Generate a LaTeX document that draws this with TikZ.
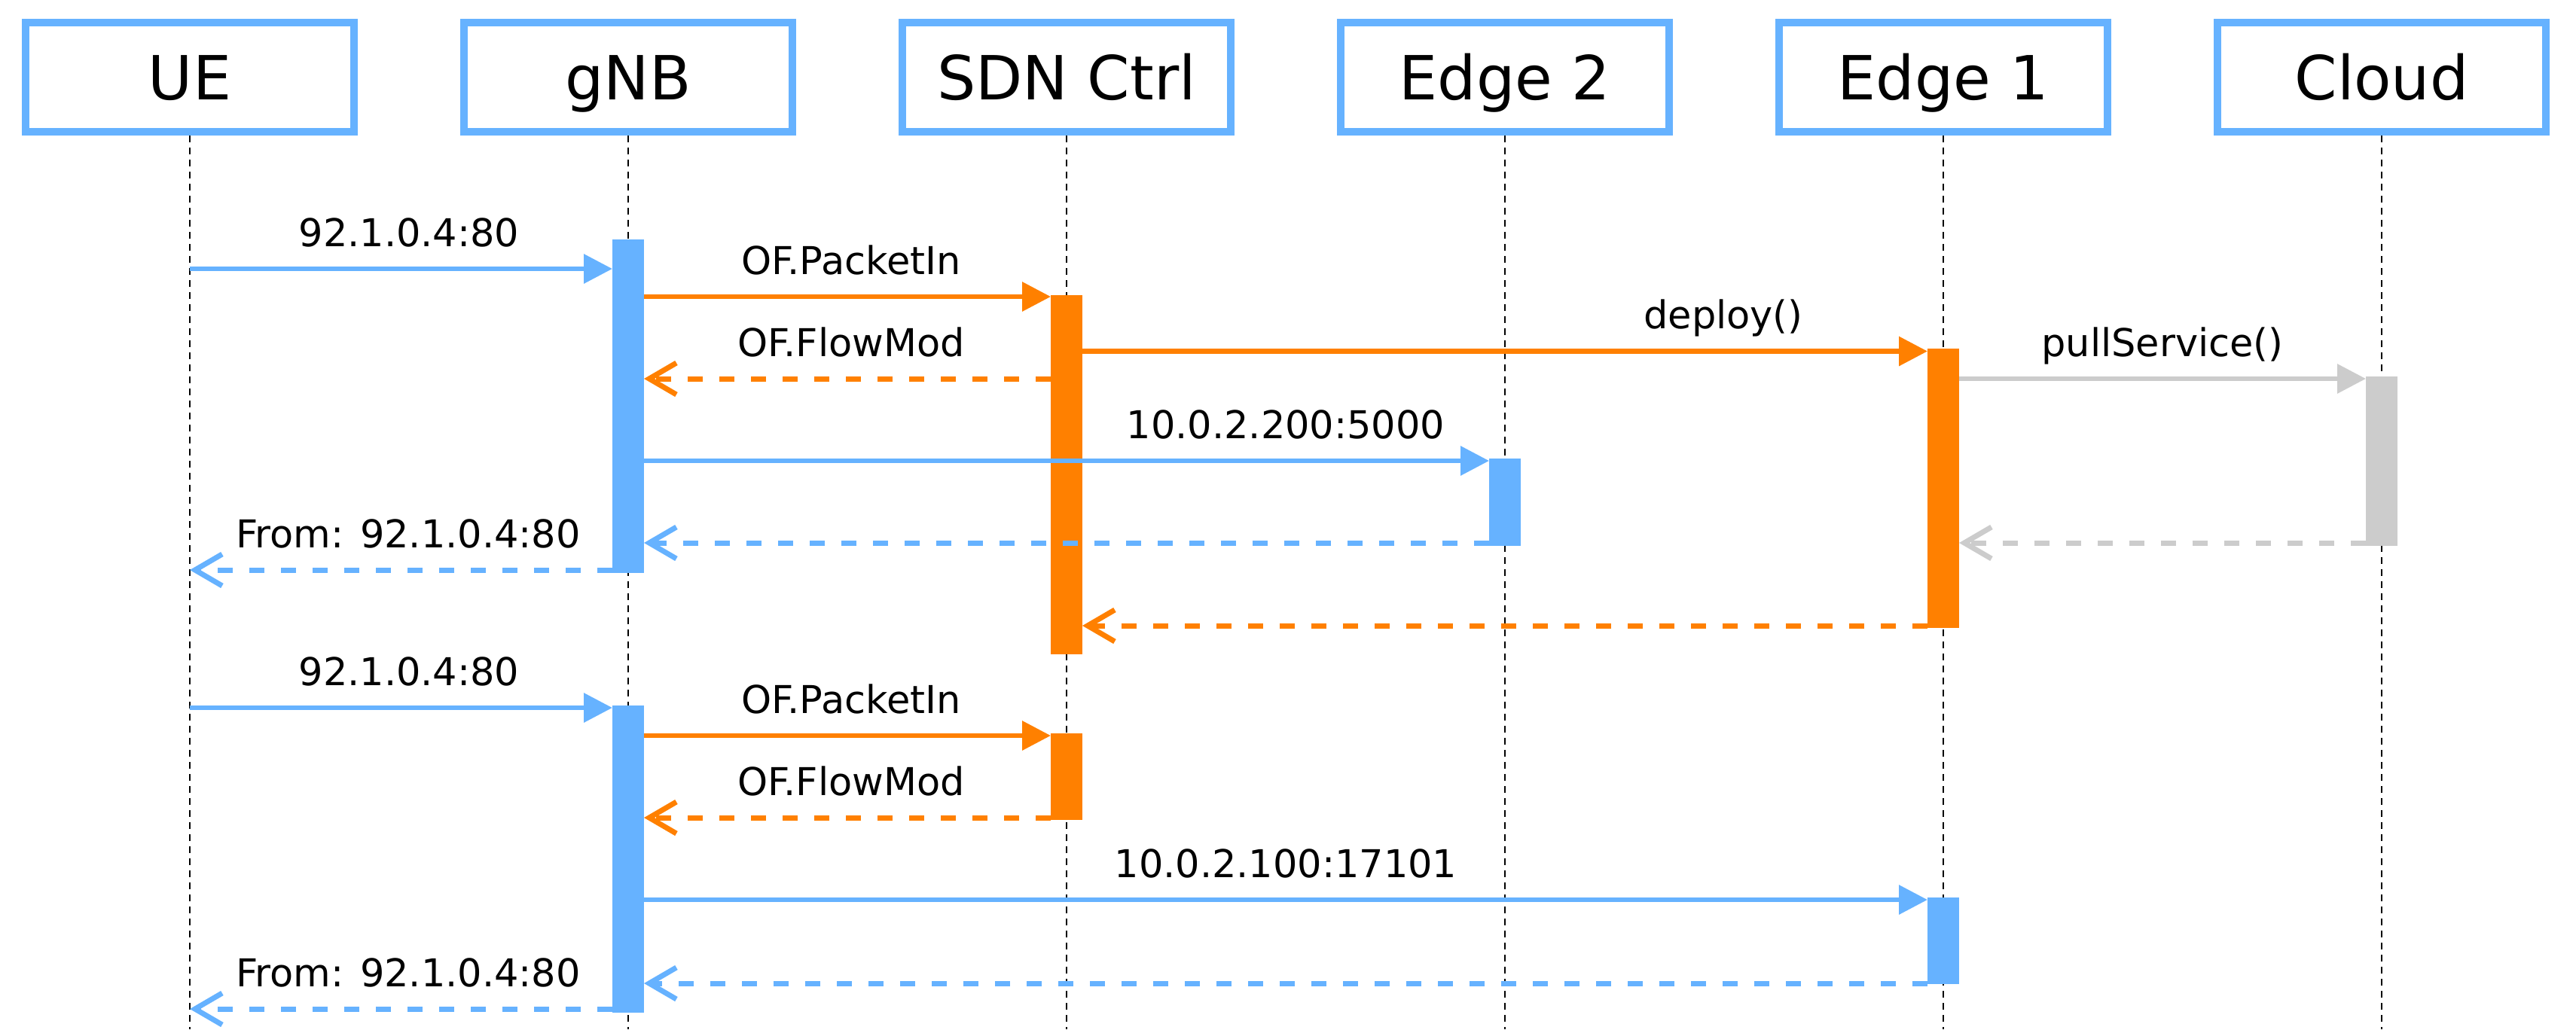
\documentclass[tikz,border=0pt]{standalone}
\usepackage{fontspec}
\setmainfont{DejaVu Sans}
\usetikzlibrary{arrows.meta}

\definecolor{lblue}{HTML}{66B2FF}
\definecolor{orng}{HTML}{FF8000}
\definecolor{lgray}{HTML}{CCCCCC}

\tikzset{
    actor/.style={draw=lblue, line width=0.1cm, minimum width=4.36cm, minimum height=1.45cm,
        font=\fontsize{23}{26}\selectfont, text height=16.8pt, text depth=0pt},
    lifeline/.style={line width=0.02cm, dash pattern=on 0.09cm off 0.07cm},
    actbar/.style={fill=#1, minimum width=0.42cm, inner sep=0pt, outer sep=0pt, anchor=north},
    msg/.style={draw=#1, line width=0.065cm, -{Triangle[length=0.38cm, width=0.38cm]}},
    reply/.style={draw=#1, line width=0.07cm, dash pattern=on 0.2cm off 0.22cm,
        -{Straight Barb[length=0.36cm, width=0.42cm]}},
    lbl/.style={font=\fontsize{14.5}{17}\selectfont, anchor=base, inner sep=0pt}
}

\begin{document}
\begin{tikzpicture}
    \useasboundingbox (0,0) rectangle (34.2,-13.67);

    % Draw the participants
    \node[actor] (ue) at (2.52,-1.025) {UE};
    \node[actor] (gnb) at (8.34,-1.025) {gNB};
    \node[actor] (sdn) at (14.16,-1.025) {SDN Ctrl};
    \node[actor] (edgetwo) at (19.98,-1.025) {Edge 2};
    \node[actor] (edgeone) at (25.80,-1.025) {Edge 1};
    \node[actor] (cloud) at (31.62,-1.025) {Cloud};

    % Draw the lifelines
    \coordinate (bottom) at (0,-13.67);
    \foreach \p in {ue,gnb,sdn,edgetwo,edgeone,cloud}
        \draw[lifeline] (\p.south) -- (\p |- bottom);

    % Activation bars
    \node[actbar=lblue, minimum height=4.43cm] (gnbA) at (8.34,-3.18) {};
    \node[actbar=orng, minimum height=4.77cm] (sdnA) at (14.16,-3.92) {};
    \node[actbar=orng, minimum height=3.71cm] (edgeoneA) at (25.80,-4.63) {};
    \node[actbar=lgray, minimum height=2.25cm] (cloudA) at (31.62,-5.00) {};
    \node[actbar=lblue, minimum height=1.16cm] (edgetwoA) at (19.98,-6.09) {};
    \node[actbar=lblue, minimum height=4.08cm] (gnbB) at (8.34,-9.37) {};
    \node[actbar=orng, minimum height=1.15cm] (sdnB) at (14.16,-9.74) {};
    \node[actbar=lblue, minimum height=1.15cm] (edgeoneB) at (25.80,-11.92) {};

    % Message rows
    \coordinate (m1) at (0,-3.57);
    \coordinate (m2) at (0,-3.94);
    \coordinate (m3) at (0,-4.665);
    \coordinate (m4) at (0,-5.03);
    \coordinate (m5) at (0,-6.12);
    \coordinate (m6) at (0,-7.21);
    \coordinate (m7) at (0,-7.57);
    \coordinate (m8) at (0,-8.31);
    \coordinate (m9) at (0,-9.40);
    \coordinate (m10) at (0,-9.77);
    \coordinate (m11) at (0,-10.86);
    \coordinate (m12) at (0,-11.95);
    \coordinate (m13) at (0,-13.06);
    \coordinate (m14) at (0,-13.40);

    % First request
    \draw[msg=lblue] (ue |- m1) -- (gnbA.west |- m1);
    \draw[msg=orng] (gnbA.east |- m2) -- (sdnA.west |- m2);
    \draw[msg=orng] (sdnA.east |- m3) -- (edgeoneA.west |- m3);
    \draw[reply=orng] (sdnA.west |- m4) -- (gnbA.east |- m4);
    \draw[msg=lgray] (edgeoneA.east |- m4) -- (cloudA.west |- m4);
    \draw[msg=lblue] (gnbA.east |- m5) -- (edgetwoA.west |- m5);
    \draw[reply=lblue] (edgetwoA.west |- m6) -- (gnbA.east |- m6);
    \draw[reply=lgray] (cloudA.west |- m6) -- (edgeoneA.east |- m6);
    \draw[reply=lblue] (gnbA.west |- m7) -- (ue |- m7);
    \draw[reply=orng] (edgeoneA.west |- m8) -- (sdnA.east |- m8);

    % Second request
    \draw[msg=lblue] (ue |- m9) -- (gnbB.west |- m9);
    \draw[msg=orng] (gnbB.east |- m10) -- (sdnB.west |- m10);
    \draw[reply=orng] (sdnB.west |- m11) -- (gnbB.east |- m11);
    \draw[msg=lblue] (gnbB.east |- m12) -- (edgeoneB.west |- m12);
    \draw[reply=lblue] (edgeoneB.west |- m13) -- (gnbB.east |- m13);
    \draw[reply=lblue] (gnbB.west |- m14) -- (ue |- m14);

    % Labels
    \node[lbl] (l1) at (5.43,-3.27) {92.1.0.4:80};
    \node[lbl] (l2) at (11.30,-3.64) {OF.PacketIn};
    \node[lbl] (l3) at (22.88,-4.365) {deploy()};
    \node[lbl] (l4) at (11.30,-4.73) {OF.FlowMod};
    \node[lbl] (l5) at (28.71,-4.73) {pullService()};
    \node[lbl] (l6) at (17.07,-5.82) {10.0.2.200:5000};
    \node[lbl] (l7) at (5.42,-7.27) {From: 92.1.0.4:80};
    \node[lbl] (l8) at (5.43,-9.10) {92.1.0.4:80};
    \node[lbl] (l9) at (11.30,-9.47) {OF.PacketIn};
    \node[lbl] (l10) at (11.30,-10.56) {OF.FlowMod};
    \node[lbl] (l11) at (17.07,-11.65) {10.0.2.100:17101};
    \node[lbl] (l12) at (5.42,-13.10) {From: 92.1.0.4:80};

\end{tikzpicture}
\end{document}
